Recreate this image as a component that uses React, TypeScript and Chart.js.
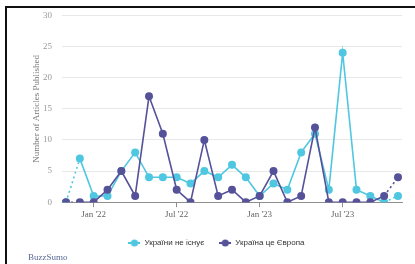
import React, { useEffect, useRef } from 'react';
import { Chart, registerables } from 'chart.js';

Chart.register(...registerables);

const months = [
  'Nov 2021', 'Dec 2021', 'Jan 2022', 'Feb 2022', 'Mar 2022', 'Apr 2022', 'May 2022',
  'Jun 2022', 'Jul 2022', 'Aug 2022', 'Sep 2022', 'Oct 2022', 'Nov 2022', 'Dec 2022',
  'Jan 2023', 'Feb 2023', 'Mar 2023', 'Apr 2023', 'May 2023', 'Jun 2023', 'Jul 2023',
  'Aug 2023', 'Sep 2023', 'Oct 2023', 'Nov 2023',
];
const seriesA = [0, 7, 1, 1, 5, 8, 4, 4, 4, 3, 5, 4, 6, 4, 1, 3, 2, 8, 11, 2, 24, 2, 1, 0, 1];
const seriesB = [0, 0, 0, 2, 5, 1, 17, 11, 2, 0, 10, 1, 2, 0, 1, 5, 0, 1, 12, 0, 0, 0, 0, 1, 4];
const seriesNames = ['України не існує', 'Україна це Європа'];
const seriesColors = ['#4fc7e0', '#56529a'];
const xTickIndex = [2, 8, 14, 20];
const xTickLabels = ["Jan '22", "Jul '22", "Jan '23", "Jul '23"];
const yMax = 30;
const yStep = 5;

const SERIF = '"Liberation Serif", "Times New Roman", serif';
const SANS = '"Liberation Sans", Arial, sans-serif';

function legendSymbol(color: string) {
  const c = document.createElement('canvas');
  c.width = 12;
  c.height = 8;
  const g = c.getContext('2d')!;
  g.strokeStyle = color;
  g.lineWidth = 2;
  g.beginPath();
  g.moveTo(0, 4);
  g.lineTo(12, 4);
  g.stroke();
  g.fillStyle = color;
  g.beginPath();
  g.arc(6, 4, 3.6, 0, Math.PI * 2);
  g.fill();
  return c;
}

export default function App() {
  const ref = useRef<HTMLCanvasElement | null>(null);

  useEffect(() => {
    if (!ref.current) return;
    const last = months.length - 1;
    const symbols = seriesColors.map(legendSymbol);
    const mk = (vals: number[], i: number) => ({
      label: seriesNames[i],
      data: vals.map((v, k) => ({ x: k, y: v })),
      borderColor: seriesColors[i],
      backgroundColor: seriesColors[i],
      pointBackgroundColor: seriesColors[i],
      pointBorderWidth: 0,
      pointRadius: 4,
      borderWidth: 1.6,
      tension: 0,
      order: i === 0 ? 1 : 0,
      segment: {
        borderDash: (ctx: any) =>
          ctx.p0DataIndex === 0 || ctx.p1DataIndex === last ? [2, 3] : undefined,
      },
    });
    const chart = new Chart(ref.current, {
      type: 'line',
      data: { datasets: [mk(seriesA, 0), mk(seriesB, 1)] as any },
      options: {
        animation: false,
        responsive: false,
        devicePixelRatio: 1,
        layout: { padding: { top: 1, right: 13, bottom: 7, left: 31 } },
        plugins: {
          tooltip: { enabled: false },
          legend: {
            position: 'bottom',
            labels: {
              usePointStyle: true,
              pointStyleWidth: 12,
              padding: 15,
              color: '#333',
              font: { family: SANS, size: 8 },
              generateLabels: (ch: any) =>
                ch.data.datasets.map((ds: any, i: number) => ({
                  text: ds.label,
                  pointStyle: symbols[i],
                  fillStyle: seriesColors[i],
                  strokeStyle: seriesColors[i],
                  lineWidth: 0,
                  hidden: false,
                  datasetIndex: i,
                  fontColor: '#333',
                })),
            },
          },
        },
        scales: {
          x: {
            type: 'linear',
            min: -0.29,
            max: last + 0.29,
            afterBuildTicks: (s: any) => {
              s.ticks = xTickIndex.map((v) => ({ value: v }));
            },
            afterFit: (s: any) => {
              s.height += 2;
            },
            ticks: {
              autoSkip: false,
              maxRotation: 0,
              padding: 2,
              color: '#666',
              font: { family: SERIF, size: 9 },
              callback: (v: any) => {
                const k = xTickIndex.indexOf(Number(v));
                return k >= 0 ? xTickLabels[k] : '';
              },
            },
            grid: { drawOnChartArea: false, drawTicks: true, tickLength: 5, color: '#8e8e8e' },
            border: { display: true, color: '#8e8e8e', width: 1 },
          },
          y: {
            min: 0,
            max: yMax,
            ticks: {
              stepSize: yStep,
              padding: 10,
              color: '#999',
              font: { family: SERIF, size: 9 },
            },
            grid: { color: '#e8e8e8', drawTicks: false },
            border: { display: false },
            title: {
              display: true,
              text: 'Number of Articles Published',
              color: '#777',
              font: { family: SERIF, size: 9 },
              padding: 0,
            },
            afterFit: (s: any) => {
              s.width = 31;
            },
          },
        },
      } as any,
    });
    return () => chart.destroy();
  }, []);

  return (
    <div style={{ position: 'fixed', left: 0, top: 0, width: 415, height: 264, background: '#fff', overflow: 'hidden' }}>
      <div
        style={{
          position: 'absolute',
          left: 5,
          top: 6,
          right: 0,
          bottom: 0,
          borderTop: '2px solid #111',
          borderLeft: '2px solid #111',
        }}
      />
      <canvas ref={ref} width={415} height={264} style={{ position: 'absolute', left: 0, top: 0, width: 415, height: 264 }} />
      <div
        style={{
          position: 'absolute',
          left: 28,
          top: 252,
          fontFamily: SERIF,
          fontSize: 9,
          color: '#5a6a96',
          lineHeight: '11px',
        }}
      >
        BuzzSumo
      </div>
    </div>
  );
}
